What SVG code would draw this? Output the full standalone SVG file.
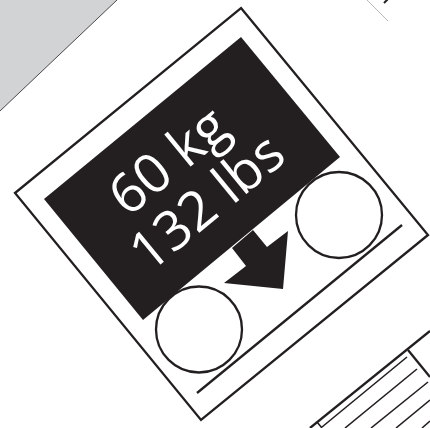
<svg xmlns="http://www.w3.org/2000/svg" width="430" height="428" viewBox="0 0 430 428">
<style>
.l{fill:none;stroke:#231f20;stroke-linecap:butt}
.t{fill:#fff;font-family:"Open Sans","Noto Sans",sans-serif;font-size:54.5px}
</style>
<rect width="430" height="428" fill="#fff"/>
<g id="backdrop"><polygon points="0,0 117,0 0,111" fill="#d1d3d4"/><line class="l" x1="117" y1="0" x2="0" y2="111" stroke-width="0.8"/></g>
<g id="corner"><line x1="367" y1="0" x2="388" y2="21" stroke="#999" stroke-width="0.7"/><line class="l" x1="388" y1="-1" x2="384" y2="3" stroke-width="2"/></g>
<g id="scale">
<polygon class="l" points="241,8 428,235 201,420 15,193" stroke-width="2.3"/>
<polygon points="241,37 340,157 143,320 44,199" fill="#231f20"/>
<polygon points="253,230 267,247 288,231 283,289 224,283 246,266 232,248" fill="#231f20"/>
<circle class="l" cx="339" cy="215" r="43" style="fill:#fff" stroke-width="2.3"/>
<circle class="l" cx="199" cy="329.5" r="43" style="fill:#fff" stroke-width="2.3"/>
<line class="l" x1="197" y1="393" x2="402" y2="225" stroke-width="2.3"/>
<text class="t" transform="translate(128,218) rotate(-39.4)">60 kg</text>
<text class="t" transform="translate(149,274) rotate(-39.4)">132 lbs</text>
</g>
<g id="paper">
<polyline class="l" points="310,428 430,331" stroke-width="2.3"/>
<line class="l" x1="408" y1="350" x2="430" y2="377" stroke-width="2.3"/>
<line class="l" x1="322" y1="427" x2="407" y2="357" stroke-width="1.6"/>
<line class="l" x1="345" y1="428" x2="417" y2="369" stroke-width="1.6"/>
<line class="l" x1="371" y1="428" x2="428" y2="382" stroke-width="1.6"/>
<line class="l" x1="396" y1="428" x2="430" y2="400" stroke-width="1.6"/>
<line class="l" x1="422" y1="428" x2="430" y2="421" stroke-width="1.6"/>
<line class="l" x1="317" y1="422" x2="322" y2="428" stroke-width="1.6"/>
</g>
</svg>
